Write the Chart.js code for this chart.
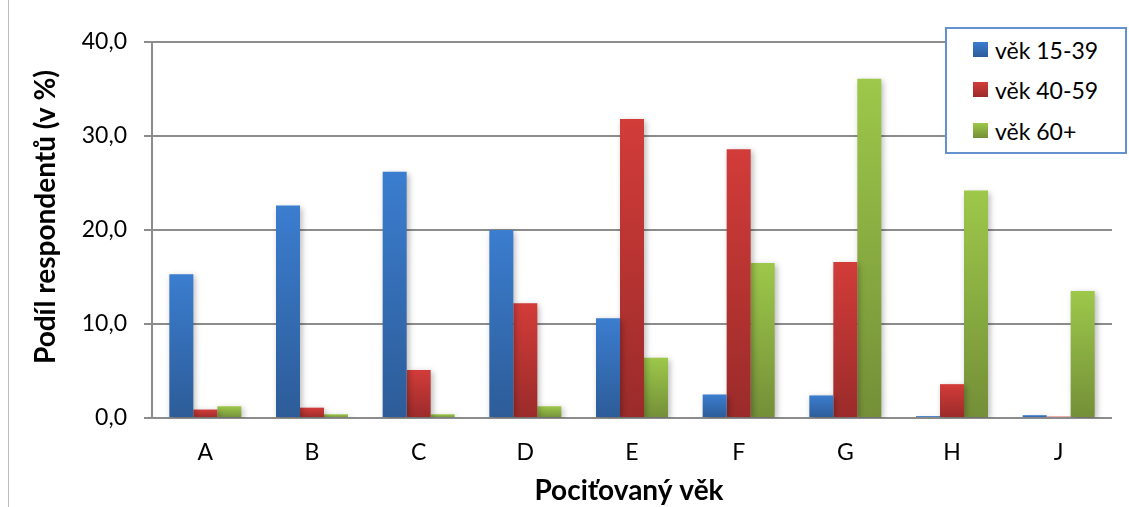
<!DOCTYPE html>
<html>
<head>
<meta charset="utf-8">
<script src="https://cdn.jsdelivr.net/npm/chart.js@4"></script>
<style>
  html, body { margin: 0; padding: 0; background: #fff; }
  #wrap { position: relative; width: 1129px; height: 507px; overflow: hidden; }
  #frame { position: absolute; left: 8px; top: 0; width: 1px; height: 507px; background: #bdbdbd; }
  #legend { position: absolute; left: 945px; top: 27px; width: 178px; height: 123px;
            border: 2px solid #6392cf; background: #fff; font-family: Lato, "Noto Sans", sans-serif;
            font-size: 23px; color: #000; box-sizing: content-box; }
  .item { position: absolute; left: 26px; height: 28px; line-height: 28px; }
  .sw { position: absolute; left: 0; top: 6px; width: 15px; height: 15px; }
  .lbl { position: absolute; left: 22px; top: 0; white-space: nowrap; }
</style>
</head>
<body>
<div id="wrap">
  <canvas id="c" width="1129" height="507"></canvas>
  <div id="frame"></div>
  <div id="legend"></div>
</div>
<script>
const categories = ["A", "B", "C", "D", "E", "F", "G", "H", "J"];
const seriesNames = ["věk 15-39", "věk 40-59", "věk 60+"];
const age15_39 = [15.3, 22.6, 26.2, 20.0, 10.6, 2.5, 2.4, 0.2, 0.3];
const age40_59 = [0.9, 1.1, 5.1, 12.2, 31.8, 28.6, 16.6, 3.6, 0.15];
const age60plus = [1.25, 0.4, 0.4, 1.25, 6.4, 16.5, 36.1, 24.2, 13.5];
const yTicks = [0, 10, 20, 30, 40];
const yTitle = "Podíl respondentů (v %)";
const xTitle = "Pociťovaný věk";

const palette = [
  { top: "#3b7dcf", bottom: "#2d5c98" },
  { top: "#d23c39", bottom: "#9a2b2a" },
  { top: "#9dc84a", bottom: "#748f38" }
];

function grad(idx) {
  return function (ctx) {
    const chart = ctx.chart;
    const ys = chart.scales && chart.scales.y;
    if (!chart.chartArea || !ys || ctx.parsed == null) return palette[idx].top;
    const v = ctx.parsed.y;
    const yTop = ys.getPixelForValue(v);
    const yBot = ys.getPixelForValue(0);
    if (!isFinite(yTop) || !isFinite(yBot) || Math.abs(yBot - yTop) < 1) return palette[idx].bottom;
    const g = chart.ctx.createLinearGradient(0, yTop, 0, yBot);
    g.addColorStop(0, palette[idx].top);
    g.addColorStop(1, palette[idx].bottom);
    return g;
  };
}

const FONT = 'Lato, "Noto Sans", sans-serif';

const shadowPlugin = {
  id: "shadow",
  beforeDatasetsDraw(chart) {
    const c = chart.ctx;
    c.save();
    c.shadowColor = "rgba(0,0,0,0.28)";
    c.shadowBlur = 6;
    c.shadowOffsetX = 2;
    c.shadowOffsetY = 2;
  },
  afterDatasetsDraw(chart) { chart.ctx.restore(); }
};

const titlePlugin = {
  id: "axisTitles",
  afterDraw(chart) {
    const c = chart.ctx;
    const a = chart.chartArea;
    c.save();
    c.fillStyle = "#000";
    c.font = "bold 28px " + FONT;
    c.textAlign = "center";
    c.textBaseline = "middle";
    c.fillText(xTitle, (a.left + a.right) / 2 - 3, 491);
    c.translate(46, 217);
    c.rotate(-Math.PI / 2);
    c.fillText(yTitle, 0, 0);
    c.restore();
  }
};

Chart.defaults.font.family = FONT;

const datasets = [age15_39, age40_59, age60plus].map((d, i) => ({
  label: seriesNames[i],
  data: d,
  backgroundColor: grad(i),
  borderWidth: 0,
  categoryPercentage: 0.675,
  barPercentage: 1.0
}));

new Chart(document.getElementById("c"), {
  type: "bar",
  data: { labels: categories, datasets },
  options: {
    responsive: false,
    animation: false,
    devicePixelRatio: 1,
    layout: { padding: { left: 0, right: 17, top: 42, bottom: 0 } },
    plugins: { legend: { display: false }, tooltip: { enabled: false } },
    scales: {
      x: {
        grid: { display: false, drawTicks: false },
        border: { display: false },
        ticks: { color: "#000", font: { size: 23 }, padding: 21 },
        afterFit(s) { s.height = 89; }
      },
      y: {
        min: 0, max: 40,
        afterBuildTicks(s) { s.ticks = yTicks.map(v => ({ value: v })); },
        ticks: {
          color: "#000", font: { size: 23 }, padding: 17,
          callback: v => v.toFixed(1).replace(".", ",")
        },
        grid: { color: "#8c8c8c", lineWidth: 2, tickLength: 8, tickColor: "#8c8c8c" },
        border: { display: true, color: "#8c8c8c", width: 2 },
        afterFit(s) { s.width = 152; }
      }
    }
  },
  plugins: [shadowPlugin, titlePlugin]
});

const legend = document.getElementById("legend");
const rowTops = [7, 47, 88];
seriesNames.forEach((n, i) => {
  const it = document.createElement("div");
  it.className = "item";
  it.style.top = rowTops[i] + "px";
  const sw = document.createElement("div");
  sw.className = "sw";
  sw.style.background = "linear-gradient(" + palette[i].top + "," + palette[i].bottom + ")";
  const lb = document.createElement("div");
  lb.className = "lbl";
  lb.textContent = n;
  it.appendChild(sw);
  it.appendChild(lb);
  legend.appendChild(it);
});
</script>
</body>
</html>
